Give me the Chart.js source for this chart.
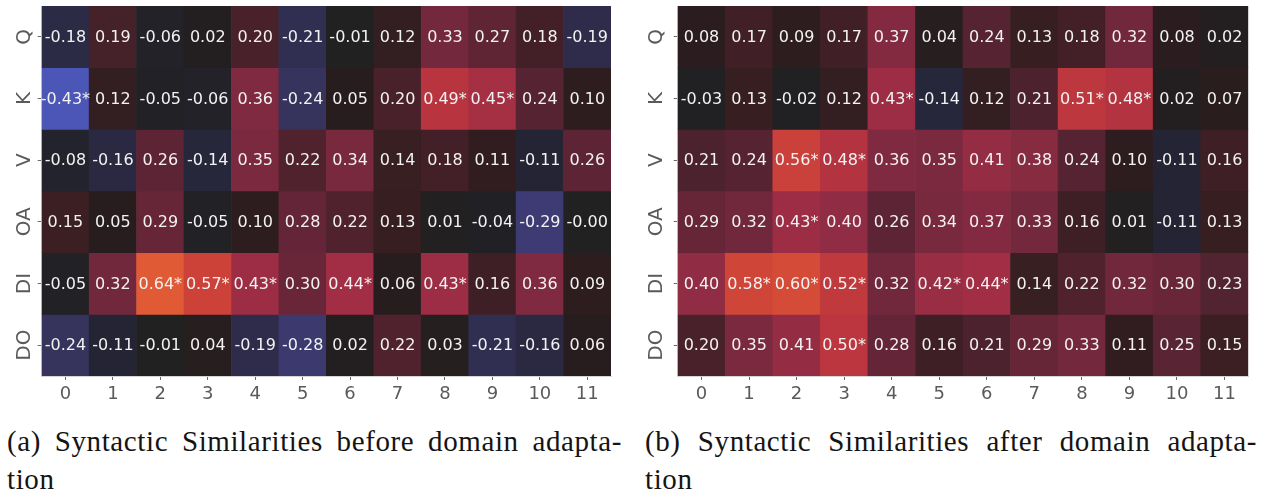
<!DOCTYPE html>
<html>
<head>
<meta charset="utf-8">
<script src="https://cdn.jsdelivr.net/npm/chart.js@4.4.1/dist/chart.umd.min.js"></script>
<style>
  html, body { margin: 0; padding: 0; background: #ffffff; }
  #page { position: relative; width: 1263px; height: 493px; overflow: hidden; }
  .panel { position: absolute; top: 0; height: 420px; }
  .caption {
    position: absolute;
    font-family: 'Liberation Serif', 'DejaVu Serif', serif;
    font-size: 29px; line-height: 38px; color: #141414; letter-spacing: 0.6px;
  }
  .caption .l1 { text-align: justify; text-align-last: justify; white-space: nowrap; }
</style>
</head>
<body>
<div id="page">
  <div class="panel" style="left:0; width:630px;"><canvas id="before" width="630" height="420"></canvas></div>
  <div class="panel" style="left:630px; width:633px;"><canvas id="after" width="633" height="420"></canvas></div>
  <div class="caption" id="capA" style="left:7px; top:422px; width:615px;"></div>
  <div class="caption" id="capB" style="left:645px; top:422px; width:612px;"></div>
</div>
<script>
// Attention sub-layers (rows) and layer indices (columns)
const rows = ['Q', 'K', 'V', 'OA', 'DI', 'DO'];
const layers = ['0', '1', '2', '3', '4', '5', '6', '7', '8', '9', '10', '11'];

// Similarity scores before domain adaptation
const beforeQ  = [-0.18, 0.19, -0.06, 0.02, 0.20, -0.21, -0.01, 0.12, 0.33, 0.27, 0.18, -0.19];
const beforeK  = [-0.43, 0.12, -0.05, -0.06, 0.36, -0.24, 0.05, 0.20, 0.49, 0.45, 0.24, 0.10];
const beforeV  = [-0.08, -0.16, 0.26, -0.14, 0.35, 0.22, 0.34, 0.14, 0.18, 0.11, -0.11, 0.26];
const beforeOA = [0.15, 0.05, 0.29, -0.05, 0.10, 0.28, 0.22, 0.13, 0.01, -0.04, -0.29, -0.001];
const beforeDI = [-0.05, 0.32, 0.64, 0.57, 0.43, 0.30, 0.44, 0.06, 0.43, 0.16, 0.36, 0.09];
const beforeDO = [-0.24, -0.11, -0.01, 0.04, -0.19, -0.28, 0.02, 0.22, 0.03, -0.21, -0.16, 0.06];

// Significant cells (marked with *) before domain adaptation
const beforeSigQ  = [0, 0, 0, 0, 0, 0, 0, 0, 0, 0, 0, 0];
const beforeSigK  = [1, 0, 0, 0, 0, 0, 0, 0, 1, 1, 0, 0];
const beforeSigV  = [0, 0, 0, 0, 0, 0, 0, 0, 0, 0, 0, 0];
const beforeSigOA = [0, 0, 0, 0, 0, 0, 0, 0, 0, 0, 0, 0];
const beforeSigDI = [0, 0, 1, 1, 1, 0, 1, 0, 1, 0, 0, 0];
const beforeSigDO = [0, 0, 0, 0, 0, 0, 0, 0, 0, 0, 0, 0];

// Similarity scores after domain adaptation
const afterQ  = [0.08, 0.17, 0.09, 0.17, 0.37, 0.04, 0.24, 0.13, 0.18, 0.32, 0.08, 0.02];
const afterK  = [-0.03, 0.13, -0.02, 0.12, 0.43, -0.14, 0.12, 0.21, 0.51, 0.48, 0.02, 0.07];
const afterV  = [0.21, 0.24, 0.56, 0.48, 0.36, 0.35, 0.41, 0.38, 0.24, 0.10, -0.11, 0.16];
const afterOA = [0.29, 0.32, 0.43, 0.40, 0.26, 0.34, 0.37, 0.33, 0.16, 0.01, -0.11, 0.13];
const afterDI = [0.40, 0.58, 0.60, 0.52, 0.32, 0.42, 0.44, 0.14, 0.22, 0.32, 0.30, 0.23];
const afterDO = [0.20, 0.35, 0.41, 0.50, 0.28, 0.16, 0.21, 0.29, 0.33, 0.11, 0.25, 0.15];

// Significant cells (marked with *) after domain adaptation
const afterSigQ  = [0, 0, 0, 0, 0, 0, 0, 0, 0, 0, 0, 0];
const afterSigK  = [0, 0, 0, 0, 1, 0, 0, 0, 1, 1, 0, 0];
const afterSigV  = [0, 0, 1, 1, 0, 0, 0, 0, 0, 0, 0, 0];
const afterSigOA = [0, 0, 1, 0, 0, 0, 0, 0, 0, 0, 0, 0];
const afterSigDI = [0, 1, 1, 1, 0, 1, 1, 0, 0, 0, 0, 0];
const afterSigDO = [0, 0, 0, 1, 0, 0, 0, 0, 0, 0, 0, 0];

// Sub-figure captions (first line justified, second line is the hyphenated remainder)
const captionA = ['(a) Syntactic Similarities before domain adapta-', 'tion'];
const captionB = ['(b) Syntactic Similarities after domain adapta-', 'tion'];

// Diverging colour scale: blue for negative, near-black at zero, red/orange for positive
const colorStops = [
  [-0.50, [84, 100, 205]],
  [-0.43, [75, 86, 182]],
  [-0.35, [68, 70, 145]],
  [-0.29, [62, 59, 116]],
  [-0.24, [54, 51, 92]],
  [-0.18, [44, 43, 70]],
  [-0.11, [36, 36, 52]],
  [-0.05, [33, 33, 38]],
  [0.00, [33, 33, 33]],
  [0.05, [39, 29, 30]],
  [0.10, [46, 29, 31]],
  [0.15, [59, 31, 35]],
  [0.20, [72, 33, 43]],
  [0.26, [92, 36, 52]],
  [0.33, [116, 40, 61]],
  [0.36, [127, 42, 64]],
  [0.43, [156, 45, 69]],
  [0.49, [184, 52, 63]],
  [0.57, [204, 66, 57]],
  [0.64, [223, 90, 53]],
  [0.70, [235, 115, 60]]
];

function colorFor(v) {
  if (v <= colorStops[0][0]) return 'rgb(' + colorStops[0][1].join(',') + ')';
  for (let i = 1; i < colorStops.length; i++) {
    const [v1, c1] = colorStops[i];
    if (v <= v1) {
      const [v0, c0] = colorStops[i - 1];
      const t = (v - v0) / (v1 - v0);
      const c = c0.map((a, k) => Math.round(a + (c1[k] - a) * t));
      return 'rgb(' + c.join(',') + ')';
    }
  }
  return 'rgb(' + colorStops[colorStops.length - 1][1].join(',') + ')';
}

// Writes each cell's score (and * when significant) in the middle of its bar
const cellLabels = {
  id: 'cellLabels',
  afterDatasetsDraw(chart) {
    const ctx = chart.ctx;
    ctx.save();
    ctx.font = '16px "DejaVu Sans"';
    ctx.fillStyle = '#f2f2f2';
    ctx.textAlign = 'center';
    ctx.textBaseline = 'middle';
    chart.data.datasets.forEach((ds, i) => {
      const meta = chart.getDatasetMeta(i);
      meta.data.forEach((bar, j) => {
        const p = bar.getProps(['x', 'y', 'base'], true);
        const text = ds.cellValues[j].toFixed(2) + (ds.cellSig[j] ? '*' : '');
        ctx.fillText(text, p.x, (p.y + p.base) / 2 + 1);
      });
    });
    ctx.restore();
  }
};

function buildHeatmap(canvasId, matrix, sigMatrix, axisWidth, rightPad, labelPad) {
  const datasets = rows.map((name, r) => ({
    label: name,
    data: layers.map(() => [r, r + 1]),
    cellValues: matrix[r],
    cellSig: sigMatrix[r],
    backgroundColor: matrix[r].map(colorFor),
    borderWidth: 0,
    barPercentage: 1,
    categoryPercentage: 1,
    grouped: false
  }));

  return new Chart(document.getElementById(canvasId), {
    type: 'bar',
    data: { labels: layers, datasets },
    plugins: [cellLabels],
    options: {
      responsive: false,
      animation: false,
      devicePixelRatio: 1,
      layout: { padding: { top: 6, right: rightPad, left: 0, bottom: 0 } },
      plugins: { legend: { display: false }, tooltip: { enabled: false } },
      scales: {
        x: {
          type: 'category',
          offset: true,
          grid: { display: true, drawOnChartArea: false, offset: false, tickLength: 4, color: '#6a6a6a', tickWidth: 1 },
          border: { display: true, color: '#d4d4d4' },
          ticks: { color: '#5a5a5a', font: { family: 'DejaVu Sans', size: 18 }, padding: 4, maxRotation: 0, minRotation: 0 },
          afterFit: (s) => { s.height = 44; s.paddingLeft = 0; s.paddingRight = 0; }
        },
        y: {
          type: 'linear',
          min: 0,
          max: 6,
          reverse: true,
          afterBuildTicks: (s) => { s.ticks = rows.map((_, i) => ({ value: i + 0.5 })); },
          grid: { display: true, drawOnChartArea: false, tickLength: 4, color: '#6a6a6a', tickWidth: 1 },
          border: { display: true, color: '#d4d4d4' },
          ticks: {
            color: '#5a5a5a',
            font: { family: 'DejaVu Sans', size: 20 },
            minRotation: 90,
            maxRotation: 90,
            crossAlign: 'center',
            padding: labelPad,
            callback: (v) => rows[Math.floor(v)]
          },
          afterFit: (s) => { s.width = axisWidth; s.paddingTop = 0; s.paddingBottom = 0; }
        }
      }
    }
  });
}

buildHeatmap('before',
  [beforeQ, beforeK, beforeV, beforeOA, beforeDI, beforeDO],
  [beforeSigQ, beforeSigK, beforeSigV, beforeSigOA, beforeSigDI, beforeSigDO],
  41.7, 19, -3);

buildHeatmap('after',
  [afterQ, afterK, afterV, afterOA, afterDI, afterDO],
  [afterSigQ, afterSigK, afterSigV, afterSigOA, afterSigDI, afterSigDO],
  47.7, 14.7, 1);

// Fills a caption block: justified first line, plain second line
function fillCaption(id, lines) {
  const box = document.getElementById(id);
  const first = document.createElement('div');
  first.className = 'l1';
  first.textContent = lines[0];
  const second = document.createElement('div');
  second.textContent = lines[1];
  box.appendChild(first);
  box.appendChild(second);
}
fillCaption('capA', captionA);
fillCaption('capB', captionB);
</script>
</body>
</html>
